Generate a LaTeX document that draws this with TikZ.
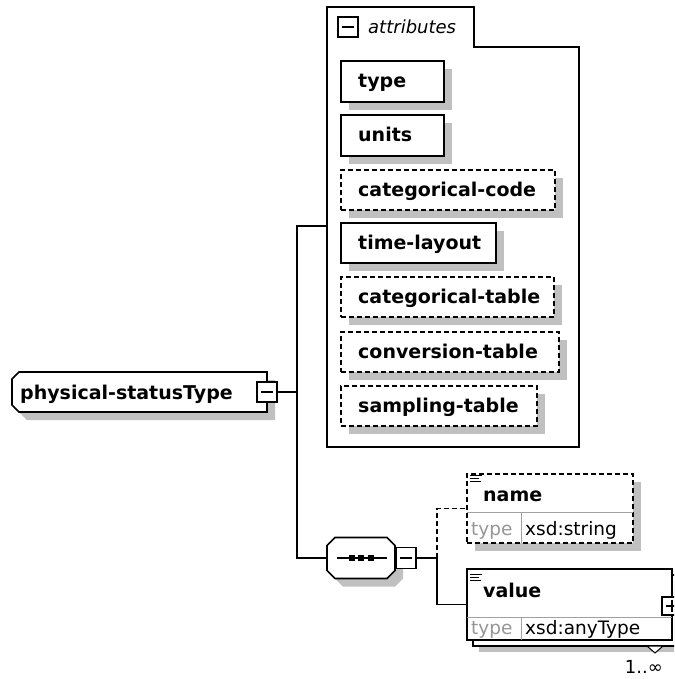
\documentclass[tikz,border=0pt]{standalone}
\usepackage{fontspec}
\setmainfont{DejaVu Sans}
\usetikzlibrary{shadows}
\definecolor{shadowc}{RGB}{192,192,192}
\definecolor{divc}{RGB}{160,160,160}
\definecolor{greytxt}{RGB}{150,150,150}
\begin{document}
\begin{tikzpicture}[x=1pt,y=-1pt,
  ln/.style={line width=1.6pt},
  dsh/.style={dash pattern=on 5pt off 3pt},
  sh/.style={drop shadow={shadow xshift=8pt,shadow yshift=-8pt,fill=shadowc,opacity=1}},
  nbox/.style={draw,fill=white,ln,anchor=north west,inner sep=0pt,outer sep=0pt},
  box/.style={nbox,sh},
  btxt/.style={font=\fontsize{19}{22}\selectfont\bfseries,anchor=base west,inner sep=0pt},
  rtxt/.style={font=\fontsize{18.5}{22}\selectfont,anchor=base west,inner sep=0pt},
  btn/.style={draw,fill=white,line width=1.4pt,minimum width=20pt,minimum height=20pt,inner sep=0pt,outer sep=0pt},
  divl/.style={draw=divc,line width=1pt},
  icon/.style={line width=1.2pt}
]
\clip (0,0) rectangle (674,679);

% ---------- root complex type ----------
\node[inner sep=0pt,outer sep=0pt,minimum width=255pt,minimum height=40pt] (root) at (139.5,392) {};
\fill[shadowc] (27,380) -- (275,380) -- (275,420) -- (27,420) -- (20,413) -- (20,387) -- cycle;
\draw[ln,fill=white] (19,372) -- (267,372) -- (267,412) -- (19,412) -- (12,405) -- (12,379) -- cycle;
\node[btxt] (roott) at (20,399) {physical-statusType};
\node[btn] (rbtn) at (267,392) {};
\draw[line width=1.4pt] ([xshift=-6pt]rbtn.center) -- ([xshift=6pt]rbtn.center);

% ---------- attributes container ----------
\draw[ln,fill=white] (327,7) -- (474,7) -- (474,47) -- (579,47) -- (579,447) -- (327,447) -- cycle;
\coordinate (attrin) at (327,226);
\node[btn] (tabbtn) at (348,27) {};
\draw[line width=1.4pt] ([xshift=-6pt]tabbtn.center) -- ([xshift=6pt]tabbtn.center);
\node[font=\fontsize{18}{20}\selectfont\itshape,anchor=base west,inner sep=0pt] (attrt) at (368,34) {attributes};

\node[box,minimum width=103pt,minimum height=41pt] (type) at (341,61) {};
\node[btxt] (typet) at (358,88) {type};
\node[box,minimum width=103pt,minimum height=41pt] (units) at (341,115) {};
\node[btxt] (unitst) at (358,142) {units};
\node[box,dsh,minimum width=214pt,minimum height=40pt] (catcode) at (341,170) {};
\node[btxt] (catcodet) at (358,196.5) {categorical-code};
\node[box,minimum width=155pt,minimum height=40pt] (timelayout) at (341,223) {};
\node[btxt] (timelayoutt) at (358,249.5) {time-layout};
\node[box,dsh,minimum width=213pt,minimum height=40pt] (cattable) at (341,277) {};
\node[btxt] (cattablet) at (358,303.5) {categorical-table};
\node[box,dsh,minimum width=218pt,minimum height=40pt] (convtable) at (341,332) {};
\node[btxt] (convtablet) at (358,358.5) {conversion-table};
\node[box,dsh,minimum width=196pt,minimum height=40pt] (sampling) at (341,386) {};
\node[btxt] (samplingt) at (358,412.5) {sampling-table};

% ---------- sequence compositor ----------
\node[inner sep=0pt,outer sep=0pt,minimum width=68pt,minimum height=41pt] (seq) at (361,558) {};
\fill[shadowc] (343,545.5) -- (395,545.5) -- (403,553.5) -- (403,578.5) -- (395,586.5) -- (343,586.5) -- (335,578.5) -- (335,553.5) -- cycle;
\draw[ln,fill=white] (335,537.5) -- (387,537.5) -- (395,545.5) -- (395,570.5) -- (387,578.5) -- (335,578.5) -- (327,570.5) -- (327,545.5) -- cycle;
\draw[line width=1.6pt] ([xshift=-24pt]seq.center) -- ([xshift=26pt]seq.center);
\fill (348.5,555) rectangle (354.5,561);
\fill (358,555) rectangle (364,561);
\fill (367.5,555) rectangle (373.5,561);
\node[btn,minimum height=21pt] (sbtn) at (406,558) {};
\draw[line width=1.4pt] ([xshift=-6pt]sbtn.center) -- ([xshift=6pt]sbtn.center);

% ---------- name element ----------
\node[box,dsh,minimum width=166pt,minimum height=69pt] (name) at (467,474) {};
\draw[divl] (467,512) -- (633,512);
\draw[divl] (521,512) -- (521,543);
\draw[icon] (470,475.5) -- (482,475.5);
\draw[icon] (470,478.5) -- (479,478.5);
\draw[icon] (470,481.5) -- (481,481.5);
\node[btxt] (namet) at (483,501) {name};
\node[rtxt,text=greytxt] (namety) at (471,535) {type};
\node[rtxt] (namets) at (525,535) {xsd:string};

% ---------- value element (repeated) ----------
\node[nbox,minimum width=205pt,minimum height=71pt,drop shadow={shadow xshift=6pt,shadow yshift=-6pt,fill=shadowc,opacity=1}] (valueback) at (473,575) {};
\node[nbox,minimum width=205pt,minimum height=71pt] (value) at (467,569) {};
\draw[divl] (467,617) -- (672,617);
\draw[divl] (521,617) -- (521,640);
\draw[icon] (470,574.5) -- (482,574.5);
\draw[icon] (470,577.5) -- (479,577.5);
\draw[icon] (470,580.5) -- (481,580.5);
\node[btxt] (valuet) at (483,597) {value};
\node[rtxt,text=greytxt] (valuety) at (471,634) {type};
\node[rtxt] (valuets) at (525,634) {xsd:anyType};
\node[btn,minimum height=18pt] (vbtn) at (672,606) {};
\draw[line width=1.4pt] ([xshift=-6pt]vbtn.center) -- ([xshift=6pt]vbtn.center);
\draw[line width=1.4pt] ([yshift=-6pt]vbtn.center) -- ([yshift=6pt]vbtn.center);
\draw[line width=1pt,fill=white] (647,646) -- (663,646) -- (655,653) -- cycle;
\node[font=\fontsize{18}{20}\selectfont,anchor=base east,inner sep=0pt] (mult) at (663,673) {1..∞};

% ---------- connectors ----------
\coordinate (ja) at (297,392);
\coordinate (jtop) at (297,226);
\coordinate (jbot) at (297,558);
\coordinate (j2) at (437,558);
\draw[ln] (rbtn.east) -- (ja);
\draw[ln] (attrin) -- (jtop) -- (jbot) -- (seq.west);
\draw[ln] (sbtn.east) -- (j2);
\draw[ln,dsh] (j2) |- (name.west);
\draw[ln] (j2) |- (value.west);
\end{tikzpicture}
\end{document}
